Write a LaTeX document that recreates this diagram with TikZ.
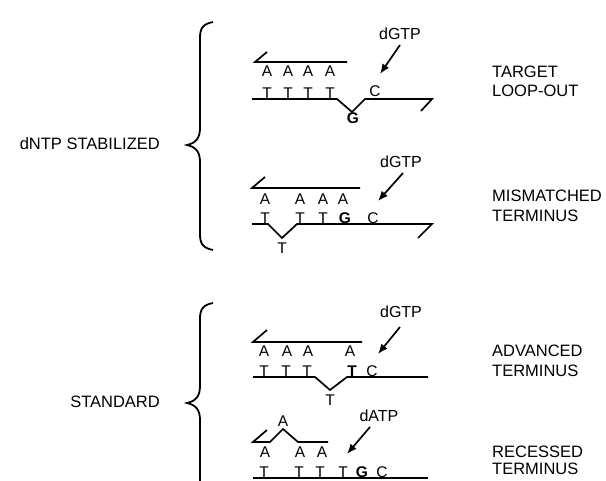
\documentclass[tikz,border=0pt]{standalone}
\usepackage{fontspec}
\setmainfont{Liberation Sans}
\usetikzlibrary{arrows.meta}
\tikzset{
  strand/.style={line width=1.7pt, line join=miter},
  base/.style={inner sep=0pt, anchor=base, font=\fontsize{15.5}{17}\selectfont},
  boldbase/.style={base, font=\fontsize{15.5}{17}\selectfont\bfseries},
  lbl/.style={inner sep=0pt, anchor=base west, font=\fontsize{16.5}{19}\selectfont},
  grp/.style={inner sep=0pt, anchor=base east, font=\fontsize{16.5}{19}\selectfont},
  ntp/.style={inner sep=0pt, font=\fontsize{16}{17}\selectfont},
  ntparrow/.style={line width=1.7pt, -{Latex[length=10pt,width=8pt]}},
  brace/.style={line width=1.8pt}
}
\begin{document}
\begin{tikzpicture}[x=1pt,y=-1pt]
\useasboundingbox (0,0) rectangle (606,481);
% braces
\draw[brace] (213,22) .. controls (203,24) and (200,28) .. (200,38) -- (200,128)
  .. controls (200,138) and (196,143) .. (187,145)
  .. controls (196,147) and (200,152) .. (200,162) -- (200,234)
  .. controls (200,244) and (203,248) .. (213,250);
\begin{scope}
\clip (0,0) rectangle (606,481);
\draw[brace] (213,303) .. controls (203,305) and (200,309) .. (200,319) -- (200,386)
  .. controls (200,396) and (196,401) .. (187,403)
  .. controls (196,405) and (200,410) .. (200,420) -- (200,487)
  .. controls (200,497) and (203,501) .. (213,503);
\end{scope}
\node[grp] (g1) at (160,150) {dNTP STABILIZED};
\node[grp] (g2) at (160,408) {STANDARD};

% ---------- panel 1: target loop-out
\draw[strand] (267,52) -- (255,62) -- (347,62);
\foreach \x [count=\i] in {267,288,308,330} {
  \node[base] (a1\i) at (\x,77) {A};
  \node[base] (t1\i) at (\x,98.5) {T};
}
\draw[strand] (252,99) -- (337,99) -- (352,112) -- (365,99) -- (432,99) -- (421,111);
\node[boldbase] (g1x) at (353,124) {G};
\node[base] (c1) at (375,97) {C};
\node[ntp] (n1) at (400,34) {dGTP};
\coordinate (s1) at (400,45);
\coordinate (e1) at (380,74);
\draw[ntparrow] (s1) -- (e1);
\node[lbl] (l1a) at (492,78) {TARGET};
\node[lbl] (l1b) at (492,97) {LOOP-OUT};

% ---------- panel 2: mismatched terminus
\draw[strand] (265,177) -- (252,188) -- (360,188);
\foreach \x [count=\i] in {265,300,323,343} {
  \node[base] (a2\i) at (\x,205) {A};
}
\foreach \x [count=\i] in {265,300,323} {
  \node[base] (t2\i) at (\x,223.5) {T};
}
\node[boldbase] (g2x) at (345,223.5) {G};
\node[base] (c2) at (373,223.5) {C};
\draw[strand] (252,224) -- (268,224) -- (282,238) -- (297,224) -- (432,224) -- (418,238);
\node[base] (t2x) at (282,254) {T};
\node[ntp] (n2) at (401,162) {dGTP};
\coordinate (s2) at (403,173);
\coordinate (e2) at (378,201);
\draw[ntparrow] (s2) -- (e2);
\node[lbl] (l2a) at (492,202) {MISMATCHED};
\node[lbl] (l2b) at (492,222) {TERMINUS};

% ---------- panel 3: advanced terminus
\draw[strand] (267,330) -- (253,342) -- (362,342);
\foreach \x [count=\i] in {264,287,308,350} {
  \node[base] (a3\i) at (\x,357) {A};
}
\foreach \x [count=\i] in {264,286,307} {
  \node[base] (t3\i) at (\x,376.5) {T};
}
\node[boldbase] (t3b) at (352,376.5) {T};
\node[base] (c3) at (372,376.5) {C};
\draw[strand] (253,377) -- (315,377) -- (330,390) -- (347,377) -- (428,377);
\node[base] (t3x) at (330,406) {T};
\node[ntp] (n3) at (401,312) {dGTP};
\coordinate (s3) at (400,327);
\coordinate (e3) at (378,354);
\draw[ntparrow] (s3) -- (e3);
\node[lbl] (l3a) at (492,357) {ADVANCED};
\node[lbl] (l3b) at (492,377) {TERMINUS};

% ---------- panel 4: recessed terminus
\draw[strand] (267,430) -- (253,442) -- (270,442) -- (283,429) -- (298,442) -- (328,442);
\node[base] (a4x) at (283,427) {A};
\foreach \x [count=\i] in {265,300,322} {
  \node[base] (a4\i) at (\x,457) {A};
}
\foreach \x [count=\i] in {264,299,320,343} {
  \node[base] (t4\i) at (\x,477.5) {T};
}
\node[boldbase] (g4x) at (362,477.5) {G};
\node[base] (c4) at (382,477.5) {C};
\draw[strand] (253,478) -- (428,478);
\node[ntp] (n4) at (379,416) {dATP};
\coordinate (s4) at (370,427);
\coordinate (e4) at (347,454);
\draw[ntparrow] (s4) -- (e4);
\node[lbl] (l4a) at (492,457) {RECESSED};
\node[lbl] (l4b) at (492,475) {TERMINUS};
\end{tikzpicture}
\end{document}
